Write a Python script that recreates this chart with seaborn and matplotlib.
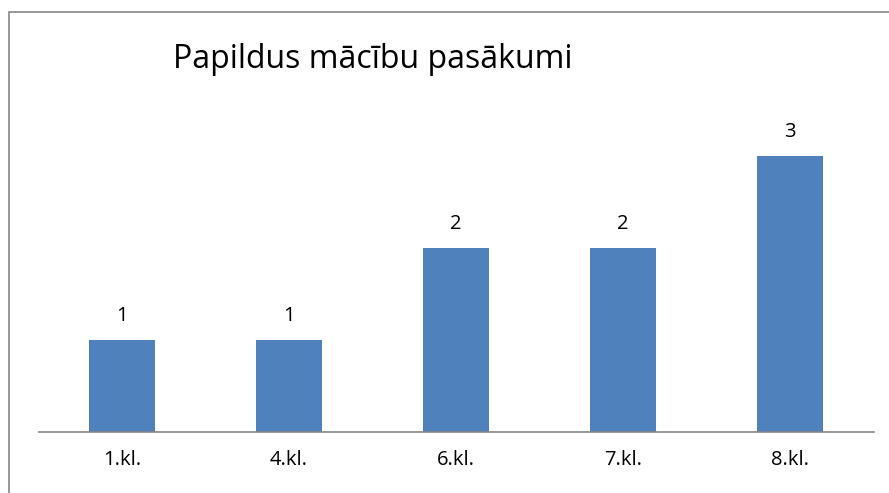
import matplotlib
matplotlib.use("Agg")
import matplotlib.pyplot as plt
import seaborn as sns
import pandas as pd
from matplotlib.patches import Rectangle

categories = ["1.kl.", "4.kl.", "6.kl.", "7.kl.", "8.kl."]
values = [1, 1, 2, 2, 3]
title = "Papildus mācību pasākumi"

sns.set_theme(style="white")
plt.rcParams['font.family'] = ['Open Sans', 'DejaVu Sans']
plt.rcParams['text.color'] = 'black'

df = pd.DataFrame({"cat": categories, "val": values})

fig = plt.figure(figsize=(8.89, 4.93), dpi=100)
ax = fig.add_axes([38.5/889, 1-432/493, 835/889, 322/493])
sns.barplot(data=df, x="cat", y="val", color="#4F81BD", saturation=1, width=0.4,
            edgecolor="none", ax=ax)
ax.set_ylim(0, 3.5)
ax.set_xlim(-0.5, 4.5)
ax.set_xlabel("")
ax.set_ylabel("")
ax.set_yticks([])
for s in ["top", "right", "left"]:
    ax.spines[s].set_visible(False)
ax.spines["bottom"].set_color("#868686")
ax.spines["bottom"].set_linewidth(1.2)
ax.tick_params(axis="x", length=0, pad=13, labelsize=14.5, colors="black")
for c in ax.containers:
    ax.bar_label(c, labels=[str(v) for v in values], padding=10, fontsize=14.5, color="black")

fig.text(173/889, 1-60/493, title, fontsize=23, ha="left", va="center", color="black")
fig.patches.append(Rectangle((9/889, -0.1), 1.2, 1-12/493+0.1, transform=fig.transFigure,
                             fill=False, edgecolor="#868686", linewidth=1.2))
fig.savefig("out.png", dpi=100)
